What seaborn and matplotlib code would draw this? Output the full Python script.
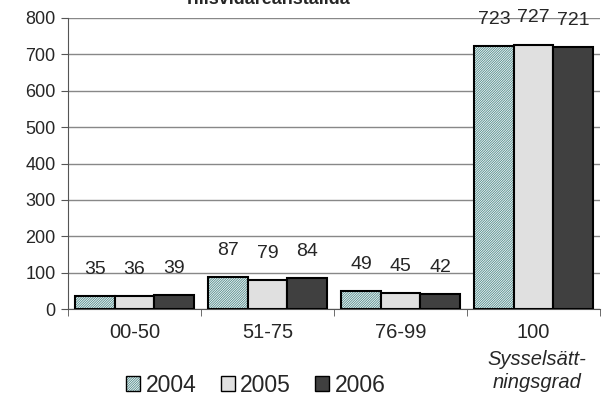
import pandas as pd
import matplotlib
matplotlib.use("Agg")
import matplotlib.pyplot as plt
import seaborn as sns
from matplotlib.patches import Patch
from matplotlib.colors import to_rgba

# Data
categories = ["00-50", "51-75", "76-99", "100"]
years = ["2004", "2005", "2006"]
v2004 = [35, 87, 49, 723]
v2005 = [36, 79, 45, 727]
v2006 = [39, 84, 42, 721]

df = pd.DataFrame({
    "kategori": categories * 3,
    "år": [years[0]] * 4 + [years[1]] * 4 + [years[2]] * 4,
    "antal": v2004 + v2005 + v2006,
})

sns.set_style("white")
plt.rcParams["font.family"] = ["Liberation Sans", "DejaVu Sans"]
plt.rcParams["hatch.linewidth"] = 0.6

colors = {"2004": "#f7fafa", "2005": "#e0e0e0", "2006": "#404040"}
teal = "#4f8a8a"
hatch = "/" * 14

fig = plt.figure(figsize=(6.06, 4.03), dpi=100)
ax = fig.add_axes([68 / 606, 1 - 309 / 403, 532 / 606, 291 / 403])

sns.barplot(data=df, x="kategori", y="antal", hue="år", palette=colors,
            order=categories, hue_order=years, width=0.89, gap=0,
            edgecolor="black", linewidth=1.5, legend=False, ax=ax, zorder=3)

# rutmönster för 2004
for p in ax.containers[0]:
    p.set_hatch(hatch)
    p._hatch_color = to_rgba(teal)

for cont in ax.containers:
    ax.bar_label(cont, padding=13, fontsize=14)

ax.set_ylim(0, 800)
ax.set_yticks(range(0, 801, 100))
ax.set_xlim(-0.5, 3.5)
ax.yaxis.grid(True, color="#888888", linewidth=1, zorder=0)
ax.set_axisbelow(True)
for s in ["top", "right"]:
    ax.spines[s].set_visible(False)
ax.spines["left"].set_color("#555555")
ax.spines["bottom"].set_color("#555555")
ax.tick_params(axis="y", length=5, left=True, labelsize=13, color="#555555", pad=4)
ax.set_xticks([i for i in range(len(categories))])
ax.set_xticklabels(categories, fontsize=14.5)
ax.set_xticks([i - 0.5 for i in range(len(categories) + 1)], minor=True)
ax.tick_params(axis="x", which="major", length=0, pad=10)
ax.tick_params(axis="x", which="minor", length=5, bottom=True, color="#555555")
ax.set_xlabel("")
ax.set_ylabel("")

fig.text(537 / 606, 1 - 371 / 403, "Sysselsätt-\nningsgrad", fontsize=14.5,
         style="italic", ha="center", va="center", linespacing=1.3)

fig.text(267 / 606, 1 - 3.5 / 403, "Tillsvidareanställda", fontsize=13,
         fontweight="bold", ha="center", va="baseline")

handles = []
for y in years:
    h = Patch(facecolor=colors[y], edgecolor="black", linewidth=1.0)
    if y == "2004":
        h.set_hatch(hatch)
        h._hatch_color = to_rgba(teal)
    handles.append(h)
fig.legend(handles, years, loc="center", bbox_to_anchor=(256 / 606, 1 - 385 / 403),
           ncol=3, frameon=False, fontsize=16.5, handlelength=0.6, handleheight=0.6,
           handletextpad=0.25, columnspacing=1.05, borderpad=0)

fig.savefig("out.png", dpi=100)
